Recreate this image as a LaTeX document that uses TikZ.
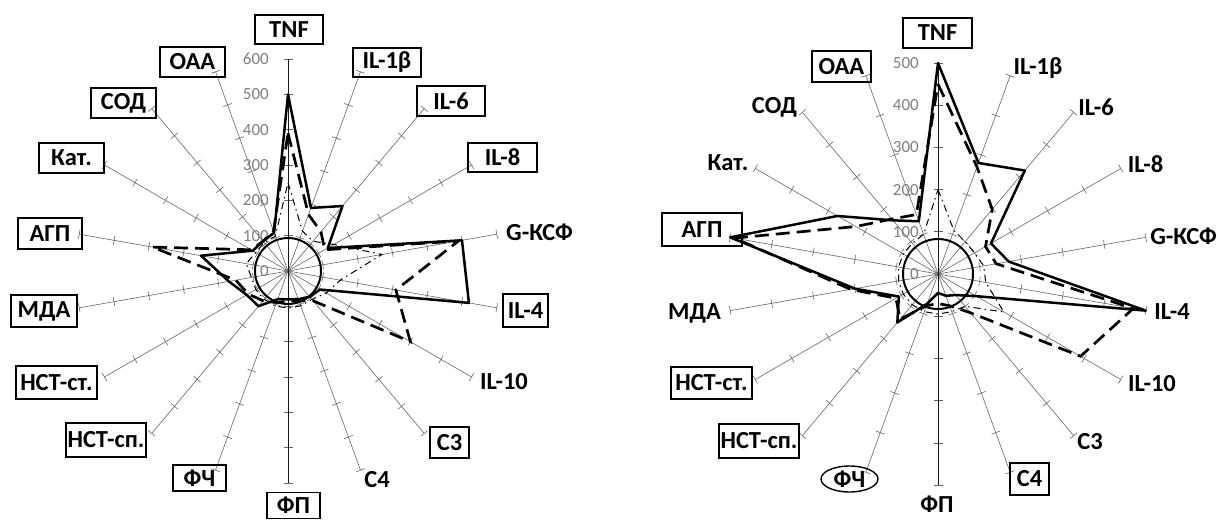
\documentclass[tikz,border=0pt]{standalone}
\usepackage{fontspec}
\setmainfont{Carlito}
\usetikzlibrary{shapes.geometric}
\tikzset{
  axisline/.style={draw=black!60, line width=0.6pt},
  vaxis/.style={draw=black!90, line width=0.75pt},
  ticklbl/.style={text=black!50, font=\fontsize{17}{17}\selectfont, anchor=east, inner sep=0pt},
  lbl/.style={font=\fontsize{24.5}{24.5}\selectfont\bfseries, inner sep=0pt, text=black},
  boxlbl/.style={lbl, draw=black, line width=1.4pt},
  ovallbl/.style={lbl, draw=black, line width=1.4pt, ellipse},
  serA/.style={draw=black, line width=2.5pt, line join=round},
  serB/.style={draw=black, line width=2.7pt, dash pattern=on 14pt off 7pt},
  serC/.style={draw=black, line width=1pt, dash pattern=on 7pt off 4pt on 1.5pt off 4pt},
  ctrl/.style={draw=black, line width=2pt},
}
\newcommand\radarpoly[3]{\draw[#1] (90:#2) \foreach \v [count=\i] in {#3} { -- ({90-20*\i}:\v) } -- cycle;}
\newcommand\radaraxes[1]{%
  \foreach \i in {0,...,17} {
    \pgfmathsetmacro\ang{90-20*\i}
    \draw[axisline] (0,0) -- (\ang:#1);
    \foreach \k in {1,...,#1} {
      \draw[axisline] ([shift={(\ang+90:4.5pt)}]\ang:\k) -- ([shift={(\ang-90:4.5pt)}]\ang:\k);
    }
  }
  \draw[vaxis] (90:#1) -- (-90:#1);
  \foreach \k in {0,...,#1} {
    \pgfmathtruncatemacro\lab{\k*100}
    \node[ticklbl] at ([xshift=-19pt]0,\k) {\lab};
  }
}
\begin{document}
\begin{tikzpicture}[x=1pt,y=1pt]
\useasboundingbox (0,0) rectangle (1218,520);
\fill[white] (0,0) rectangle (1218,520);

% ---------- left chart ----------
\coordinate (L0) at (288,249);
\begin{scope}[shift={(288pt,249pt)}, x=35.33pt, y=35.33pt]
  \radaraxes{6}
  \draw[ctrl] (0,0) circle[radius=33pt];
  \radarpoly{serC}{2.5}{1.2,1.1,1.5,2.7,1.5,1.25,1.05,1.05,1.05,1.05,1.05,1.05,1.05,1.2,1.05,1.05,1.05}
  \radarpoly{serB}{3.9}{1.7,1.45,1.2,4.9,3.1,4.0,1.1,0.9,0.85,0.95,1.1,1.3,1.5,3.9,1.2,1.1,1.2}
  \radarpoly{serA}{5.0}{1.9,2.4,1.3,5.0,5.2,1.05,0.95,0.85,0.8,0.85,1.3,1.35,1.7,2.5,1.15,1.1,1.15}
\end{scope}

\node[boxlbl, minimum width=68pt, minimum height=29pt] (lTNF) at (289,490.5) {TNF};
\node[boxlbl, minimum width=68pt, minimum height=29pt] (lIL1) at (387,457.5) {IL-1β};
\node[boxlbl, minimum width=68pt, minimum height=30pt] (lIL6) at (451,419) {IL-6};
\node[boxlbl, minimum width=69pt, minimum height=29pt] (lIL8) at (502.5,362.5) {IL-8};
\node[lbl] (lGCSF) at (539.5,288) {G-КСФ};
\node[boxlbl, minimum width=45pt, minimum height=33pt] (lIL4) at (525.5,209.5) {IL-4};
\node[lbl] (lIL10) at (504,138) {IL-10};
\node[boxlbl, minimum width=39pt, minimum height=31pt] (lC3) at (449.5,77.5) {C3};
\node[lbl] (lC4) at (377,40) {C4};
\node[boxlbl, minimum width=53pt, minimum height=26pt] (lFP) at (293.5,14.5) {ФП};
\node[boxlbl, minimum width=53pt, minimum height=26pt] (lFCh) at (199.5,42) {ФЧ};
\node[boxlbl, minimum width=80pt, minimum height=34pt] (lNSTsp) at (106,80) {НСТ-сп.};
\node[boxlbl, minimum width=81pt, minimum height=33pt] (lNSTst) at (56.5,137.5) {НСТ-ст.};
\node[boxlbl, minimum width=66pt, minimum height=32pt] (lMDA) at (44,209) {МДА};
\node[boxlbl, minimum width=64pt, minimum height=31pt] (lAGP) at (50,286.5) {АГП};
\node[boxlbl, minimum width=65pt, minimum height=30pt] (lKat) at (71.5,362) {Кат.};
\node[boxlbl, minimum width=65pt, minimum height=30pt] (lSOD) at (123.5,417) {СОД};
\node[boxlbl, minimum width=65pt, minimum height=30pt] (lOAA) at (192.5,458) {ОАА};

% ---------- right chart ----------
\coordinate (R0) at (938,246);
\begin{scope}[shift={(938pt,246pt)}, x=42.2pt, y=42.2pt]
  \radaraxes{5}
  \draw[ctrl] (0,0) circle[radius=35pt];
  \radarpoly{serC}{2.0}{1.1,1.0,1.0,1.1,1.15,1.8,1.0,0.95,0.95,0.95,0.95,0.95,0.95,0.95,0.95,0.95,1.0}
  \radarpoly{serB}{4.5}{2.7,2.0,1.3,1.4,4.7,3.9,1.2,0.8,0.7,0.8,1.4,1.15,2.1,4.9,2.25,1.7,1.5}
  \radarpoly{serA}{5.0}{2.8,3.2,1.45,1.7,5.0,1.05,0.65,0.55,0.45,0.75,1.5,1.07,2.0,5.0,2.75,1.66,1.33}
\end{scope}

\node[boxlbl, minimum width=69pt, minimum height=30pt] (rTNF) at (937.5,487) {TNF};
\node[lbl] (rIL1) at (1038,452) {IL-1β};
\node[lbl] (rIL6) at (1096,413) {IL-6};
\node[lbl] (rIL8) at (1145.5,356) {IL-8};
\node[lbl, anchor=east] (rGCSF) at (1217,284) {G-КСФ};
\node[lbl] (rIL4) at (1172,208) {IL-4};
\node[lbl] (rIL10) at (1152,136) {IL-10};
\node[lbl] (rC3) at (1090,78) {C3};
\node[boxlbl, minimum width=39pt, minimum height=32pt] (rC4) at (1029.5,41) {C4};
\node[lbl] (rFP) at (937,16) {ФП};
\node[ovallbl, minimum width=57pt, minimum height=26pt] (rFCh) at (849.5,41) {ФЧ};
\node[boxlbl, minimum width=80pt, minimum height=34pt] (rNSTsp) at (759,79) {НСТ-сп.};
\node[boxlbl, minimum width=81pt, minimum height=32pt] (rNSTst) at (711.5,137) {НСТ-ст.};
\node[lbl] (rMDA) at (694.5,207) {МДА};
\node[boxlbl, minimum width=80pt, minimum height=33pt] (rAGP) at (702,290.5) {АГП};
\node[lbl] (rKat) at (728,357) {Кат.};
\node[lbl] (rSOD) at (774.5,413) {СОД};
\node[boxlbl, minimum width=59pt, minimum height=31pt] (rOAA) at (841.5,453.5) {ОАА};
\end{tikzpicture}
\end{document}
